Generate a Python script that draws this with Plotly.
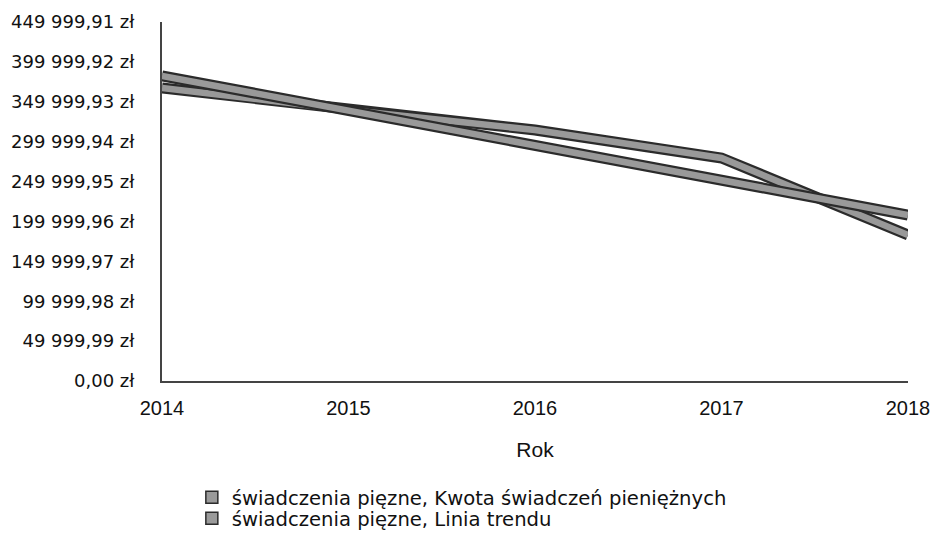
import plotly.graph_objects as go

years = [2014, 2015, 2016, 2017, 2018]
kwota = [367300, 339700, 314600, 279500, 183000]
trend = [382500, 338900, 295300, 251700, 208100]

y_tick_vals = [0, 49999.99, 99999.98, 149999.97, 199999.96, 249999.95,
               299999.94, 349999.93, 399999.92, 449999.91]
y_tick_text = ["0,00 zł", "49 999,99 zł", "99 999,98 zł", "149 999,97 zł",
               "199 999,96 zł", "249 999,95 zł", "299 999,94 zł",
               "349 999,93 zł", "399 999,92 zł", "449 999,91 zł"]
x_tick_text = ["2014", "2015", "2016", "2017", "2018"]

names = ["świadczenia pięzne, Kwota świadczeń pieniężnych",
         "świadczenia pięzne, Linia trendu"]

fig = go.Figure()
for name, vals in [(names[0], kwota), (names[1], trend)]:
    fig.add_trace(go.Scatter(x=years, y=vals, mode="lines", showlegend=False,
                             line=dict(color="#2b2b2b", width=11)))
    fig.add_trace(go.Scatter(x=years, y=vals, mode="lines", showlegend=False,
                             line=dict(color="#999999", width=6.5)))

# legend-only swatches
for name, leg in [(names[0], "legend"), (names[1], "legend2")]:
    fig.add_trace(go.Bar(x=[None], y=[None], name=name, legend=leg,
                         marker=dict(color="#9a9a9a",
                                     line=dict(color="#2b2b2b", width=1.5))))

H = 533
leg_font = dict(family="DejaVu Sans", size=19.6, color="#111")
fig.update_layout(
    width=931, height=H,
    margin=dict(l=162, r=23, t=22, b=152, autoexpand=False),
    paper_bgcolor="white", plot_bgcolor="white",
    showlegend=True,
    legend=dict(x=0.04, y=1 - 478 / H, xref="paper", yref="container",
                xanchor="left", yanchor="top", font=leg_font,
                itemwidth=30, bgcolor="rgba(0,0,0,0)"),
    legend2=dict(x=0.04, y=1 - 499 / H, xref="paper", yref="container",
                 xanchor="left", yanchor="top", font=leg_font,
                 itemwidth=30, bgcolor="rgba(0,0,0,0)"),
    xaxis=dict(range=[2014, 2018], tickvals=years, ticktext=x_tick_text,
               showgrid=False, zeroline=False, showline=True,
               linecolor="#444", linewidth=2, ticks="", automargin=False,
               ticklabelstandoff=8,
               tickfont=dict(family="Liberation Sans", size=20, color="#111"),
               title=dict(text="Rok", standoff=24,
                          font=dict(family="Liberation Sans", size=21, color="#111"))),
    yaxis=dict(range=[0, 449999.91], tickvals=y_tick_vals, ticktext=y_tick_text,
               showgrid=False, zeroline=False, showline=True,
               linecolor="#444", linewidth=2, ticks="", automargin=False,
               ticklabelstandoff=22,
               tickfont=dict(family="DejaVu Sans", size=18, color="#111")),
)

fig.write_html("out.html", config={"displayModeBar": False},
               post_script="document.body.style.margin='0';"
                           "document.body.style.overflow='hidden';")
